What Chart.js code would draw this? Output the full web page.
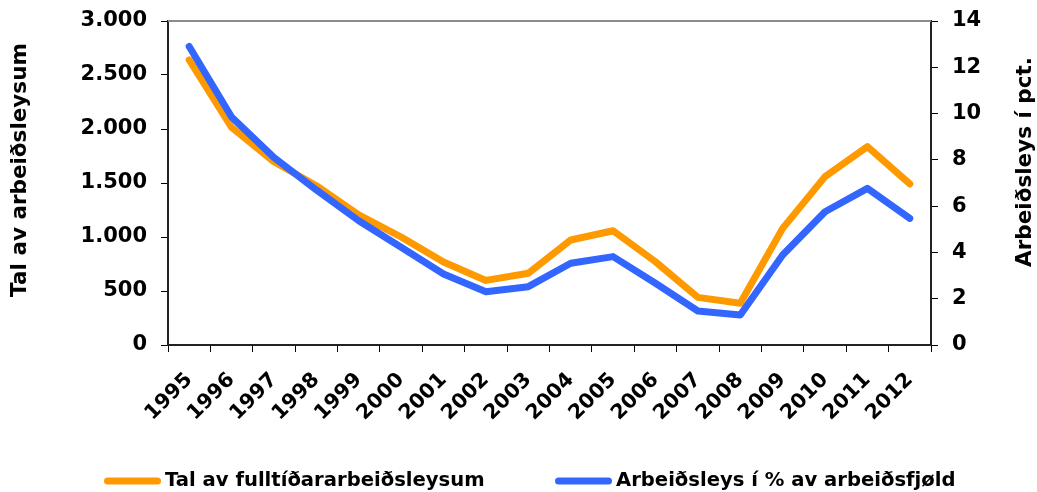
<!DOCTYPE html>
<html>
<head>
<meta charset="utf-8">
<script src="https://cdn.jsdelivr.net/npm/chart.js@4/dist/chart.umd.min.js"></script>
<style>
html,body{margin:0;padding:0;background:#fff;}
#wrap{width:1037px;height:492px;}
</style>
</head>
<body>
<div id="wrap"><canvas id="c" width="1037" height="492"></canvas></div>
<script>
const years = ['1995','1996','1997','1998','1999','2000','2001','2002','2003','2004','2005','2006','2007','2008','2009','2010','2011','2012'];
const fullTimeUnemployed = [2639, 2016, 1697, 1475, 1204, 1000, 768, 598, 664, 972, 1058, 771, 441, 386, 1080, 1559, 1836, 1491];
const unemploymentPct = [12.9, 9.85, 8.1, 6.7, 5.37, 4.22, 3.07, 2.3, 2.52, 3.53, 3.82, 2.67, 1.47, 1.3, 3.89, 5.76, 6.77, 5.47];
const leftTicks = [0, 500, 1000, 1500, 2000, 2500, 3000];
const rightTicks = [0, 2, 4, 6, 8, 10, 12, 14];
const seriesNames = ['Tal av fulltíðararbeiðsleysum', 'Arbeiðsleys í % av arbeiðsfjøld'];
const axisTitles = ['Tal av arbeiðsleysum', 'Arbeiðsleys í pct.'];

const FONT = "'DejaVu Sans', Verdana, sans-serif";
function fmt(v){ return String(v).replace(/\B(?=(\d{3})+(?!\d))/g, '.'); }

const topBorder = {
  id: 'topBorder',
  beforeDatasetsDraw(chart){
    const {ctx, chartArea:a} = chart;
    ctx.save();
    ctx.strokeStyle = '#8c8c8c';
    ctx.lineWidth = 2;
    ctx.beginPath();
    ctx.moveTo(a.left, a.top);
    ctx.lineTo(a.right, a.top);
    ctx.stroke();
    ctx.restore();
  }
};

// axis titles, placed like the original (slightly above the plot centre)
const axisTitlePlugin = {
  id: 'axisTitlePlugin',
  afterDraw(chart){
    const ctx = chart.ctx;
    const place = [[20, 170], [1025, 162]];
    axisTitles.forEach((t, i) => {
      ctx.save();
      ctx.font = "bold 21.5px " + FONT;
      ctx.fillStyle = '#000';
      ctx.textAlign = 'center';
      ctx.textBaseline = 'middle';
      ctx.translate(place[i][0], place[i][1]);
      ctx.rotate(-Math.PI / 2);
      ctx.fillText(t, 0, 0);
      ctx.restore();
    });
  }
};

const bottomLegend = {
  id: 'bottomLegend',
  afterDraw(chart){
    const ctx = chart.ctx;
    const ds = chart.data.datasets;
    const starts = [104, 555];
    const boxW = 57, boxH = 7, textGap = 4;
    const y = 481;
    ctx.save();
    ctx.font = "bold 19.6px " + FONT;
    ctx.textBaseline = 'middle';
    ds.forEach((d, i) => {
      const x = starts[i];
      ctx.strokeStyle = d.borderColor;
      ctx.lineWidth = boxH;
      ctx.lineCap = 'round';
      ctx.beginPath();
      ctx.moveTo(x + boxH / 2, y);
      ctx.lineTo(x + boxW - boxH / 2, y);
      ctx.stroke();
      ctx.fillStyle = '#000';
      ctx.textAlign = 'left';
      ctx.fillText(d.label, x + boxW + textGap, y);
    });
    ctx.restore();
  }
};

function pinY(width){
  return function(scale){
    scale.width = width;
    scale.paddingTop = 0;
    scale.paddingBottom = 0;
  };
}

new Chart(document.getElementById('c'), {
  type: 'line',
  data: {
    labels: years,
    datasets: [
      {
        label: seriesNames[0],
        data: fullTimeUnemployed,
        yAxisID: 'y',
        borderColor: '#FF9900',
        backgroundColor: '#FF9900',
        borderWidth: 7,
        pointRadius: 0,
        tension: 0,
        borderCapStyle: 'round',
        borderJoinStyle: 'round',
        order: 1
      },
      {
        label: seriesNames[1],
        data: unemploymentPct,
        yAxisID: 'y1',
        borderColor: '#3366FF',
        backgroundColor: '#3366FF',
        borderWidth: 7,
        pointRadius: 0,
        tension: 0,
        borderCapStyle: 'round',
        borderJoinStyle: 'round',
        order: 0
      }
    ]
  },
  options: {
    responsive: false,
    animation: false,
    layout: { padding: { top: 21, left: 0, right: 0, bottom: 40 } },
    plugins: {
      tooltip: { enabled: false },
      legend: { display: false }
    },
    scales: {
      x: {
        type: 'category',
        offset: true,
        grid: { display: true, offset: true, drawOnChartArea: false, drawTicks: true, tickLength: 7, color: '#000', tickColor: '#000' },
        border: { display: true, color: '#222', width: 2 },
        ticks: {
          font: { family: FONT, size: 20.5, weight: 'bold' },
          color: '#000',
          maxRotation: 45,
          minRotation: 45,
          padding: 16,
          autoSkip: false
        },
        afterFit(scale){ scale.height = 107; }
      },
      y: {
        position: 'left',
        min: 0,
        max: 3000,
        afterBuildTicks(scale){ scale.ticks = leftTicks.map(v => ({value: v})); },
        grid: { display: true, drawOnChartArea: false, drawTicks: true, tickLength: 7, color: '#000', tickColor: '#000' },
        border: { display: true, color: '#222', width: 2 },
        ticks: {
          font: { family: FONT, size: 21, weight: 'bold' },
          color: '#000',
          padding: 14,
          callback: v => fmt(v)
        },
        afterFit: pinY(168)
      },
      y1: {
        position: 'right',
        min: 0,
        max: 14,
        afterBuildTicks(scale){ scale.ticks = rightTicks.map(v => ({value: v})); },
        grid: { display: true, drawOnChartArea: false, drawTicks: true, tickLength: 7, color: '#000', tickColor: '#000' },
        border: { display: true, color: '#222', width: 2 },
        ticks: {
          font: { family: FONT, size: 21, weight: 'bold' },
          color: '#000',
          padding: 14
        },
        afterFit: pinY(106)
      }
    }
  },
  plugins: [topBorder, axisTitlePlugin, bottomLegend]
});
</script>
</body>
</html>
